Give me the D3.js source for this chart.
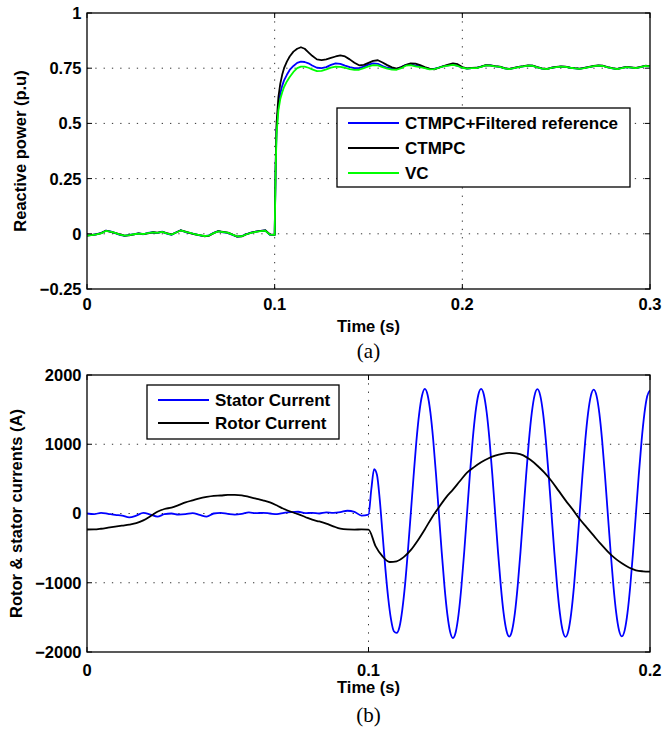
<!DOCTYPE html>
<html>
<head>
<meta charset="utf-8">
<script src="https://cdn.jsdelivr.net/npm/d3@7"></script>
<style>
  body { margin: 0; background: #fff; }
  svg text { font-family: "Liberation Sans", Arial, Helvetica, sans-serif; font-weight: bold; fill: #000; }
  .caption { font-family: "Liberation Serif", "Times New Roman", serif !important; font-weight: normal !important; }
</style>
</head>
<body>
<div id="chart"></div>
<script>
// ---- Panel (a): reactive power (p.u) ----
const timeA = [
  ...d3.range(40).map(i => i * 0.0025),
  0.1, 0.1005, 0.101, 0.102, 0.103, 0.104, 0.105, 0.1065, 0.108, 0.11, 0.112, 0.114, 0.116, 0.118, 0.12,
  ...d3.range(1, 73).map(i => 0.12 + i * 0.0025)
];

const reactiveFiltered = [
  -0.007, -0.006, -0.002, 0.003, 0.014, 0.011, 0.003, -0.005, -0.009, -0.005,
  -0.002, 0.002, -0.002, 0.004, 0.007, 0.003, 0.010, 0.001, -0.005, 0.007,
  0.016, 0.008, 0.003, -0.001, -0.007, -0.011, -0.007, 0.004, 0.012, 0.007,
  0.004, -0.005, -0.013, -0.010, -0.001, 0.005, 0.010, 0.013, 0.015, -0.005,
  -0.005, 0.29, 0.47, 0.58, 0.635, 0.67, 0.695, 0.72, 0.742, 0.76, 0.774, 0.78, 0.778, 0.772, 0.762,
  0.752, 0.75, 0.755, 0.765, 0.772, 0.77, 0.762, 0.755, 0.75, 0.75,
  0.757, 0.766, 0.772, 0.77, 0.76, 0.752, 0.748, 0.747, 0.755, 0.765,
  0.767, 0.762, 0.758, 0.752, 0.747, 0.747, 0.753, 0.759, 0.763, 0.766,
  0.761, 0.753, 0.748, 0.75, 0.751, 0.757, 0.763, 0.763, 0.758, 0.756,
  0.749, 0.746, 0.75, 0.756, 0.758, 0.762, 0.761, 0.754, 0.748, 0.746,
  0.752, 0.755, 0.757, 0.756, 0.752, 0.749, 0.747, 0.751, 0.755, 0.759,
  0.762, 0.76, 0.754, 0.749, 0.746, 0.751, 0.755, 0.753, 0.75, 0.755,
  0.76, 0.758
];

const reactiveCtmpc = [
  -0.008, -0.005, -0.003, 0.003, 0.014, 0.009, 0.004, -0.003, -0.008, -0.007,
  -0.003, 0.002, -0.001, 0.002, 0.007, 0.005, 0.009, 0.003, -0.003, 0.006,
  0.016, 0.010, 0.003, -0.003, -0.006, -0.011, -0.009, 0.003, 0.012, 0.009,
  0.005, -0.003, -0.013, -0.012, -0.002, 0.005, 0.010, 0.013, 0.016, -0.003,
  -0.005, 0.31, 0.5, 0.62, 0.68, 0.72, 0.75, 0.78, 0.803, 0.825, 0.838, 0.845, 0.838, 0.822, 0.806,
  0.79, 0.787, 0.79, 0.797, 0.803, 0.808, 0.803, 0.79, 0.775, 0.763,
  0.765, 0.774, 0.783, 0.786, 0.776, 0.764, 0.754, 0.748, 0.755, 0.765,
  0.772, 0.771, 0.764, 0.755, 0.748, 0.745, 0.752, 0.76, 0.766, 0.772,
  0.768, 0.755, 0.749, 0.751, 0.752, 0.757, 0.764, 0.763, 0.759, 0.757,
  0.75, 0.747, 0.751, 0.756, 0.759, 0.763, 0.762, 0.755, 0.749, 0.747,
  0.752, 0.756, 0.758, 0.757, 0.753, 0.75, 0.748, 0.751, 0.756, 0.76,
  0.763, 0.761, 0.755, 0.75, 0.747, 0.751, 0.756, 0.754, 0.751, 0.756,
  0.761, 0.759
];

const reactiveVc = [
  -0.008, -0.006, -0.003, 0.002, 0.013, 0.010, 0.004, -0.004, -0.008, -0.006,
  -0.002, 0.001, -0.001, 0.003, 0.006, 0.004, 0.009, 0.002, -0.004, 0.006,
  0.015, 0.009, 0.004, -0.002, -0.006, -0.010, -0.008, 0.003, 0.011, 0.008,
  0.005, -0.004, -0.012, -0.011, -0.002, 0.004, 0.009, 0.012, 0.014, -0.004,
  -0.005, 0.28, 0.45, 0.56, 0.61, 0.64, 0.665, 0.69, 0.71, 0.733, 0.75, 0.757, 0.757, 0.752, 0.745,
  0.737, 0.738, 0.745, 0.753, 0.757, 0.756, 0.752, 0.746, 0.742, 0.743,
  0.75, 0.758, 0.764, 0.763, 0.755, 0.748, 0.744, 0.743, 0.75, 0.762,
  0.764, 0.758, 0.755, 0.75, 0.745, 0.746, 0.752, 0.758, 0.762, 0.765,
  0.76, 0.752, 0.748, 0.75, 0.75, 0.756, 0.763, 0.762, 0.758, 0.756,
  0.749, 0.746, 0.75, 0.755, 0.758, 0.762, 0.761, 0.754, 0.748, 0.746,
  0.751, 0.755, 0.757, 0.756, 0.752, 0.749, 0.747, 0.75, 0.755, 0.759,
  0.762, 0.76, 0.754, 0.749, 0.746, 0.75, 0.755, 0.753, 0.75, 0.755,
  0.76, 0.758
];

const seriesNamesA = ['CTMPC+Filtered reference', 'CTMPC', 'VC'];
const yTicksA = [-0.25, 0, 0.25, 0.5, 0.75, 1];
const yTickLabelsA = ['\u22120.25', '0', '0.25', '0.5', '0.75', '1'];
const xTicksA = [0, 0.1, 0.2, 0.3];
const xTickLabelsA = ['0', '0.1', '0.2', '0.3'];

// ---- Panel (b): rotor & stator currents (A) ----
const timeStator = [
  ...d3.range(41).map(i => i * 0.0025),
  ...d3.range(1, 101).map(i => 0.1 + i * 0.001)
];
const statorCurrent = [
  0, -10, 10, -5, -20, -30, -55, -30, 10, -15,
  -45, -10, 0, -15, -10, 5, -20, -45, 0, 10,
  -5, -15, -5, 15, 5, 10, 0, -10, 10, 20,
  25, 5, 10, 0, 15, 10, 20, 40, 25, -30,
  -15,
  350, 640, 560, 200, -300, -800, -1220, -1530, -1700, -1725,
  -1640, -1390, -1020, -540, -10, 530, 1040, 1440, 1700, 1800,
  1712, 1456, 1058, 556, 0, -555, -1057, -1454, -1709, -1798,
  -1710, -1455, -1058, -556, 0, 556, 1058, 1456, 1712, 1800,
  1712, 1455, 1057, 555, 0, -550, -1046, -1440, -1690, -1778,
  -1690, -1440, -1046, -550, 0, 555, 1055, 1452, 1706, 1795,
  1706, 1452, 1055, 555, 0, -551, -1048, -1442, -1695, -1782,
  -1695, -1442, -1048, -551, 0, 553, 1052, 1448, 1702, 1790,
  1702, 1448, 1052, 553, 0, -548, -1043, -1436, -1688, -1775,
  -1688, -1436, -1043, -548, 0, 550, 1046, 1440, 1693, 1780
];

const timeRotor = d3.range(81).map(i => i * 0.0025);
const rotorCurrent = [
  -231, -230, -220, -205, -190, -175, -160, -140, -100, -40,
  25, 65, 85, 120, 160, 190, 220, 240, 255, 260,
  268, 270, 262, 240, 215, 190, 160, 115, 65, 25,
  -10, -50, -90, -115, -145, -185, -220, -230, -232, -230,
  -232,
  -470, -620, -700, -690, -630, -530, -390, -230, -60, 90,
  230, 345, 470, 590, 670, 740, 795, 835, 862, 875,
  868, 840, 775, 690, 590, 470, 330, 190, 60, -80,
  -200, -320, -440, -550, -645, -720, -780, -820, -835, -840
];

const seriesNamesB = ['Stator Current', 'Rotor Current'];
const yTicksB = [-2000, -1000, 0, 1000, 2000];
const yTickLabelsB = ['\u22122000', '\u22121000', '0', '1000', '2000'];
const xTicksB = [0, 0.1, 0.2];
const xTickLabelsB = ['0', '0.1', '0.2'];

class LinePanel {
  constructor(_svg, _config, _series) {
    this.svg = _svg;
    this.config = _config;
    this.series = _series;
    this.initVis();
  }

  initVis() {
    const vis = this;
    const c = vis.config;

    vis.xScale = d3.scaleLinear().domain(c.xDomain).range([c.left, c.right]);
    vis.yScale = d3.scaleLinear().domain(c.yDomain).range([c.bottom, c.top]);

    vis.g = vis.svg.append('g');

    // dotted grid
    vis.g.append('g').selectAll('line')
      .data(c.yTicks.filter(d => d > c.yDomain[0] && d < c.yDomain[1]))
      .join('line')
      .attr('x1', c.left).attr('x2', c.right)
      .attr('y1', d => vis.yScale(d)).attr('y2', d => vis.yScale(d))
      .attr('stroke', '#333').attr('stroke-width', 1)
      .attr('stroke-dasharray', '1.3,7');
    vis.g.append('g').selectAll('line')
      .data(c.xTicks.filter(d => d > c.xDomain[0] && d < c.xDomain[1]))
      .join('line')
      .attr('y1', c.top).attr('y2', c.bottom)
      .attr('x1', d => vis.xScale(d)).attr('x2', d => vis.xScale(d))
      .attr('stroke', '#333').attr('stroke-width', 1)
      .attr('stroke-dasharray', '1.3,7');

    // inward ticks on all four sides
    const tl = 5;
    const ticks = vis.g.append('g').attr('stroke', '#000').attr('stroke-width', 1);
    c.yTicks.forEach(d => {
      const y = vis.yScale(d);
      ticks.append('line').attr('x1', c.left).attr('x2', c.left + tl).attr('y1', y).attr('y2', y);
      ticks.append('line').attr('x1', c.right).attr('x2', c.right - tl).attr('y1', y).attr('y2', y);
    });
    c.xTicks.forEach(d => {
      const x = vis.xScale(d);
      ticks.append('line').attr('y1', c.bottom).attr('y2', c.bottom - tl).attr('x1', x).attr('x2', x);
      ticks.append('line').attr('y1', c.top).attr('y2', c.top + tl).attr('x1', x).attr('x2', x);
    });

    // lines
    const clipId = `clip-${c.id}`;
    vis.svg.append('defs').append('clipPath').attr('id', clipId)
      .append('rect')
      .attr('x', c.left).attr('y', c.top)
      .attr('width', c.right - c.left).attr('height', c.bottom - c.top);

    const line = curve => d3.line()
      .x(d => vis.xScale(d[0]))
      .y(d => vis.yScale(d[1]))
      .curve(curve);

    vis.g.append('g').attr('clip-path', `url(#${clipId})`)
      .selectAll('path')
      .data(vis.series)
      .join('path')
      .attr('fill', 'none')
      .attr('stroke', d => d.colour)
      .attr('stroke-width', c.lineWidth)
      .attr('stroke-linejoin', 'round')
      .attr('d', d => line(d.curve || d3.curveLinear)(d.time.map((t, i) => [t, d.values[i]])));

    // frame
    vis.g.append('rect')
      .attr('x', c.left).attr('y', c.top)
      .attr('width', c.right - c.left).attr('height', c.bottom - c.top)
      .attr('fill', 'none').attr('stroke', '#000').attr('stroke-width', 1.3);

    // tick labels
    vis.g.append('g').selectAll('text')
      .data(c.yTicks)
      .join('text')
      .attr('x', c.left - 5.5)
      .attr('y', d => vis.yScale(d))
      .attr('dy', '0.36em')
      .attr('text-anchor', 'end')
      .style('font-size', '16.5px')
      .text((d, i) => c.yTickLabels[i]);

    vis.g.append('g').selectAll('text')
      .data(c.xTicks)
      .join('text')
      .attr('x', d => vis.xScale(d))
      .attr('y', c.bottom + c.xTickOffset)
      .attr('text-anchor', 'middle')
      .style('font-size', '16.5px')
      .text((d, i) => c.xTickLabels[i]);

    // axis titles
    vis.g.append('text')
      .attr('x', (c.left + c.right) / 2)
      .attr('y', c.bottom + c.xLabelOffset)
      .attr('text-anchor', 'middle')
      .style('font-size', '16.5px')
      .text('Time (s)');

    vis.g.append('text')
      .attr('transform', `translate(${c.yLabelX}, ${(c.top + c.bottom) / 2}) rotate(-90)`)
      .attr('text-anchor', 'middle')
      .style('font-size', '16.5px')
      .text(c.yLabel);

    vis.g.append('text')
      .attr('class', 'caption')
      .attr('x', (c.left + c.right) / 2)
      .attr('y', c.bottom + c.captionOffset)
      .attr('text-anchor', 'middle')
      .style('font-size', '21px')
      .text(c.caption);

    // legend
    const lg = c.legend;
    const legend = vis.g.append('g').attr('class', 'legend');
    legend.append('rect')
      .attr('x', lg.x).attr('y', lg.y)
      .attr('width', lg.width).attr('height', lg.height)
      .attr('fill', '#fff').attr('stroke', '#000').attr('stroke-width', 1.3);
    const rows = legend.selectAll('.legend-row')
      .data(vis.series)
      .join('g')
      .attr('class', 'legend-row')
      .attr('transform', (d, i) => `translate(${lg.x}, ${lg.y + lg.firstRow + i * lg.rowStep})`);
    rows.append('line')
      .attr('x1', lg.lineStart).attr('x2', lg.lineEnd)
      .attr('stroke', d => d.colour).attr('stroke-width', c.lineWidth);
    rows.append('text')
      .attr('x', lg.textStart)
      .attr('dy', '0.36em')
      .style('font-size', '17px')
      .text(d => d.name);
  }
}

const svg = d3.select('#chart').append('svg')
  .attr('width', 663)
  .attr('height', 730);
svg.append('rect').attr('width', 663).attr('height', 730).attr('fill', '#fff');

new LinePanel(svg, {
  id: 'a',
  left: 87, right: 650, top: 13, bottom: 289,
  xDomain: [0, 0.3], yDomain: [-0.25, 1],
  xTicks: xTicksA, xTickLabels: xTickLabelsA,
  yTicks: yTicksA, yTickLabels: yTickLabelsA,
  xTickOffset: 21, xLabelOffset: 43, captionOffset: 69,
  yLabelX: 26, yLabel: 'Reactive power (p.u)',
  caption: '(a)',
  lineWidth: 1.8,
  legend: { x: 337, y: 108, width: 293, height: 79, firstRow: 15, rowStep: 25, lineStart: 11, lineEnd: 62, textStart: 68 }
}, [
  { name: seriesNamesA[0], colour: '#0000ff', time: timeA, values: reactiveFiltered },
  { name: seriesNamesA[1], colour: '#000000', time: timeA, values: reactiveCtmpc },
  { name: seriesNamesA[2], colour: '#00ff00', time: timeA, values: reactiveVc }
]);

new LinePanel(svg, {
  id: 'b',
  left: 87, right: 650, top: 375, bottom: 652,
  xDomain: [0, 0.2], yDomain: [-2000, 2000],
  xTicks: xTicksB, xTickLabels: xTickLabelsB,
  yTicks: yTicksB, yTickLabels: yTickLabelsB,
  xTickOffset: 24, xLabelOffset: 41, captionOffset: 70,
  yLabelX: 22, yLabel: 'Rotor & stator currents (A)',
  caption: '(b)',
  lineWidth: 1.8,
  legend: { x: 147, y: 385, width: 192, height: 54, firstRow: 15, rowStep: 23, lineStart: 11, lineEnd: 62, textStart: 68 }
}, [
  { name: seriesNamesB[0], colour: '#0000ff', time: timeStator, values: statorCurrent, curve: d3.curveMonotoneX },
  { name: seriesNamesB[1], colour: '#000000', time: timeRotor, values: rotorCurrent, curve: d3.curveMonotoneX }
]);
</script>
</body>
</html>
